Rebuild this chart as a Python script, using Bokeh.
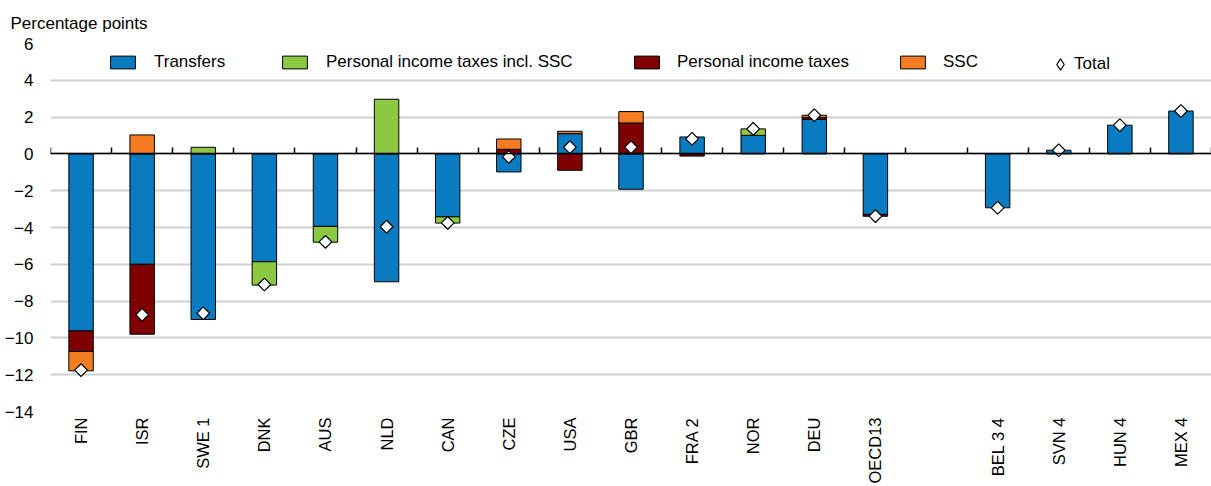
import numpy as np
from math import pi
from bokeh.plotting import figure
from bokeh.models import (ColumnDataSource, Range1d, LinearAxis, FixedTicker,
                          Legend, LegendItem)
from bokeh.embed import file_html
from bokeh.resources import INLINE

# ---------------- data ----------------
countries = ["FIN", "ISR", "SWE 1", "DNK", "AUS", "NLD", "CAN", "CZE", "USA", "GBR",
             "FRA 2", "NOR", "DEU", "OECD13", "BEL 3 4", "SVN 4", "HUN 4", "MEX 4"]
gap_label = ""
transfers = [-9.62, -6.0, -9.0, -5.86, -3.94, -6.95, -3.42, -0.98, 1.10, -1.92,
             0.92, 1.01, 1.88, -3.29, -2.93, 0.20, 1.56, 2.33]
pit_incl_ssc = [0, 0, 0.36, -1.27, -0.86, 2.97, -0.34, 0, 0, 0,
                0, 0.35, 0, 0, 0, 0, 0, 0]
pit = [-1.12, -3.8, 0, 0, 0, 0, 0, 0.25, -0.89, 1.68,
       -0.12, 0, 0.10, -0.10, 0, 0, 0, 0]
ssc = [-1.05, 1.03, 0, 0, 0, 0, 0, 0.56, 0.13, 0.62,
       0, 0, 0.12, 0, 0, 0, 0, 0]
total = [-11.75, -8.74, -8.66, -7.10, -4.78, -3.96, -3.75, -0.16, 0.36, 0.36,
         0.82, 1.36, 2.10, -3.38, -2.93, 0.20, 1.56, 2.33]
y_ticks = [-14, -12, -10, -8, -6, -4, -2, 0, 2, 4, 6]

# category slots (one empty slot between OECD13 and the next group)
slots = countries[:14] + [gap_label] + countries[14:]
xpos = [slots.index(c) + 0.5 for c in countries]

FONT = "Liberation Sans"
colors = {"Transfers": "#0A7BC1",
          "Personal income taxes incl. SSC": "#8CC841",
          "Personal income taxes": "#7F0000",
          "SSC": "#F47D23"}

FH = 368
p = figure(width=1211, frame_height=FH, x_range=Range1d(0, len(slots)),
           y_range=Range1d(y_ticks[0], y_ticks[-1]),
           output_backend="svg", toolbar_location=None,
           min_border_left=50, min_border_right=0, min_border_top=42, min_border_bottom=10)
p.outline_line_color = None
p.xgrid.grid_line_color = None
p.ygrid.grid_line_color = "#D0D0D0"
p.ygrid.grid_line_width = 2
p.ygrid.ticker = FixedTicker(ticks=y_ticks)

p.title.text = "Percentage points"
p.title.text_font = FONT
p.title.text_font_size = "17px"
p.title.text_font_style = "normal"
p.title.text_color = "black"
p.title.align = "left"
p.title.offset = -40
p.title.standoff = 22

# y axis
p.yaxis.ticker = FixedTicker(ticks=y_ticks)
p.yaxis.axis_line_color = None
p.yaxis.major_tick_line_color = None
p.yaxis.minor_tick_line_color = None
p.yaxis.major_tick_out = 0
p.yaxis.major_label_standoff = 17
p.yaxis.major_label_text_font = FONT
p.yaxis.major_label_text_font_size = "17px"
p.yaxis.major_label_text_color = "black"

# x axis (category labels only)
centers = [i + 0.5 for i in range(len(slots))]
p.xaxis.ticker = FixedTicker(ticks=centers)
p.xaxis.major_label_overrides = {c: s for c, s in zip(centers, slots)}
p.xaxis.axis_line_color = None
p.xaxis.major_tick_line_color = None
p.xaxis.minor_tick_line_color = None
p.xaxis.major_tick_out = 0
p.xaxis.major_label_orientation = pi / 2
p.xaxis.major_label_standoff = 6
p.xaxis.major_label_text_font = FONT
p.xaxis.major_label_text_font_size = "16.5px"
p.xaxis.major_label_text_color = "black"

# zero line with ticks at the category boundaries
zero_axis = LinearAxis(fixed_location=0,
                       ticker=FixedTicker(ticks=list(range(len(slots) + 1))))
zero_axis.axis_line_color = "black"
zero_axis.axis_line_width = 1.5
zero_axis.major_tick_line_color = "black"
zero_axis.major_tick_line_width = 1.5
zero_axis.major_tick_in = 6
zero_axis.major_tick_out = 0
zero_axis.minor_tick_line_color = None
zero_axis.major_label_standoff = 0
zero_axis.major_label_text_alpha = 0
zero_axis.major_label_text_font_size = "1px"
p.add_layout(zero_axis, "below")

# stacked bars
series = [("Transfers", transfers), ("Personal income taxes incl. SSC", pit_incl_ssc),
          ("Personal income taxes", pit), ("SSC", ssc)]
pos = np.zeros(len(countries))
neg = np.zeros(len(countries))
renderers = {}
for name, vals in series:
    v = np.array(vals, dtype=float)
    bottom = np.where(v >= 0, pos, neg)
    top = bottom + v
    pos = np.where(v >= 0, top, pos)
    neg = np.where(v < 0, top, neg)
    mask = v != 0
    src = ColumnDataSource(dict(x=np.array(xpos)[mask], bottom=bottom[mask], top=top[mask]))
    renderers[name] = p.vbar(x="x", bottom="bottom", top="top", width=0.4, source=src,
                             fill_color=colors[name], line_color="black", line_width=1)

tsrc = ColumnDataSource(dict(x=xpos, y=total))
# diamond renderer used for the legend swatch (legend glyphs are drawn unrotated);
# it sits fully underneath the rotated-square markers below
renderers["Total"] = p.scatter(x="x", y="y", source=tsrc, marker="diamond", size=9,
                               fill_color="white", line_color="black", line_width=1.2)
p.scatter(x="x", y="y", source=tsrc, marker="square", angle=pi / 4,
          size=9, fill_color="white", line_color="black", line_width=1.2)

# legends (one per item for exact placement)
leg_specs = [("Transfers", 57, 31, 16, 16), ("Personal income taxes incl. SSC", 229, 31, 16, 16),
             ("Personal income taxes", 581, 31, 16, 15), ("SSC", 847, 31, 16, 15),
             ("Total", 996, 28, 28, 0)]
for name, lx, gw, gh, so in leg_specs:
    ly = FH - 11 - 18 - (gh - 16) // 2
    lg = Legend(items=[LegendItem(label=name, renderers=[renderers[name]])],
                location=(lx, ly), orientation="horizontal",
                glyph_width=gw, glyph_height=gh, label_height=16, label_standoff=so,
                padding=0, margin=0, spacing=0, border_line_color=None,
                background_fill_alpha=0, label_text_font=FONT,
                label_text_font_size="17px", label_text_color="black")
    p.add_layout(lg)

open("out.html", "w").write(file_html(p, INLINE))
